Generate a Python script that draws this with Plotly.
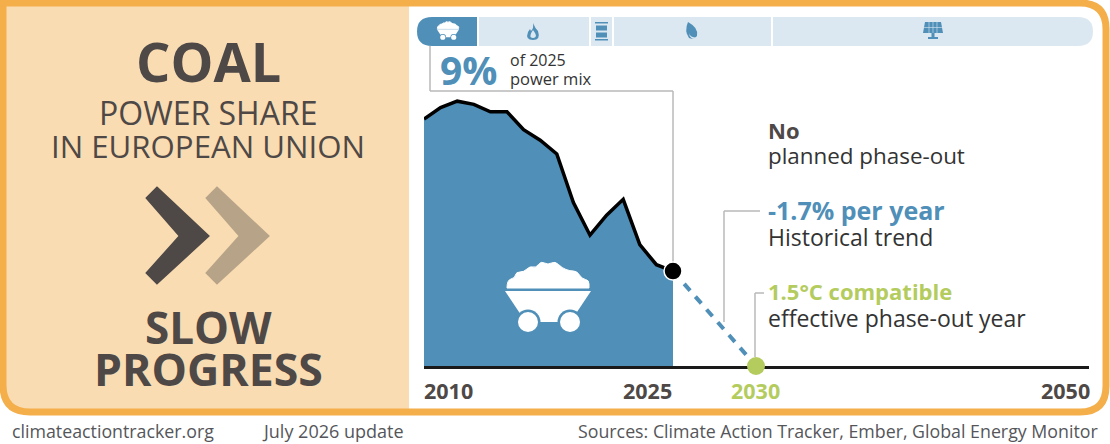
import plotly.graph_objects as go

W = 1110
H = 444

# coal share of the EU power mix (percent)
years = [2010, 2011, 2012, 2013, 2014, 2015, 2016, 2017, 2018, 2019, 2020, 2021, 2022, 2023, 2024, 2025]
coal_share = [23.4, 24.5, 25.1, 24.8, 24.1, 24.1, 22.4, 21.4, 20.1, 15.5, 12.4, 14.3, 15.8, 11.5, 9.6, 9.0]

trend_years = [2025, 2030]
trend_share = [9.0, 0.0]

tick_years = [2010, 2025, 2030, 2050]

BLUE = '#4f8fb8'
TAB = '#dce8f1'
ORANGE = '#f4ae4a'
PEACH = '#fadcb2'
DARK = '#4e4846'
TAN = '#b7a488'
GREEN = '#b4cc5e'
GREY = '#b9b9b9'
FONT = 'Open Sans'


def px(x):
    return round(x / W, 5)


def py(y):
    return round(1 - y / H, 5)


def path(cmds):
    # cmds is a list of (letter, x, y, ...) in picture pixels
    out = []
    for c in cmds:
        nums = c[1:]
        pts = [f'{px(nums[i])},{py(nums[i + 1])}' for i in range(0, len(nums), 2)]
        out.append(c[0] + ' '.join(pts))
    return ' '.join(out) + ' Z'


def poly(points):
    return path([('M', *points[0])] + [('L', *p) for p in points[1:]])


def smooth(points):
    # rounded outline through the midpoints, used for the lumpy coal pile
    cmds = [('M', *points[0])]
    for a, b in zip(points[1:-1], points[2:]):
        cmds.append(('Q', a[0], a[1], (a[0] + b[0]) / 2, (a[1] + b[1]) / 2))
    cmds.append(('L', *points[-1]))
    return path(cmds)


def shape(d, fill, line=None, width=0, layer='above'):
    return dict(type='path', xref='paper', yref='paper', path=d, fillcolor=fill, layer=layer,
                line=dict(color=line or fill, width=width))


def circle(cx, cy, r, fill):
    return dict(type='circle', xref='paper', yref='paper', x0=px(cx - r), x1=px(cx + r),
                y0=py(cy + r), y1=py(cy - r), fillcolor=fill, line=dict(width=0), layer='above')


def seg(x0, y0, x1, y1, color=GREY, width=1.5, layer='below'):
    return dict(type='line', xref='paper', yref='paper', x0=px(x0), x1=px(x1), y0=py(y0), y1=py(y1),
                line=dict(color=color, width=width), layer=layer)


def cart(cx, cy, s, ring):
    # minecart with a coal pile, drawn around (cx, cy)
    def t(x, y):
        return cx + (x - 548) * s, cy + (y - 298) * s
    pile = [(507, 288), (507, 280), (515, 278), (516, 272), (524, 272), (530, 266), (536, 268), (541, 261),
            (548, 265), (555, 261), (562, 268), (570, 271), (577, 271), (582, 279), (589, 280), (589, 288)]
    body = [(505, 291), (591, 291), (577, 312), (570, 322), (528, 322), (519, 312)]
    out = [shape(smooth([t(*p) for p in pile]), 'white', 'white', 1),
           shape(poly([t(*p) for p in body]), 'white')]
    for wx in (528, 570):
        wheel_x, wheel_y = t(wx, 322)
        out.append(circle(wheel_x, wheel_y, 12.5 * s, ring))
        out.append(circle(wheel_x, wheel_y, 10 * s, 'white'))
    return out


def chevron(dx, color):
    pts = [(157 + dx, 189), (207 + dx, 236), (157 + dx, 282), (148 + dx, 273), (181 + dx, 236), (148 + dx, 198)]
    return shape(poly(pts), color, color, 4, layer='below')


shapes = []

# left panel and outer frame
shapes.append(shape(path([('M', 3, 3), ('L', 409, 3), ('L', 409, 412), ('L', 30, 412),
                          ('Q', 3, 412, 3, 385)]), PEACH, layer='below'))
shapes.append(dict(type='path', xref='paper', yref='paper', layer='below', fillcolor='rgba(0,0,0,0)',
                   line=dict(color=ORANGE, width=7),
                   path=path([('M', 3, 3), ('L', 1080, 3), ('Q', 1106, 3, 1106, 29), ('L', 1106, 386),
                              ('Q', 1106, 412, 1080, 412), ('L', 30, 412), ('Q', 3, 412, 3, 385)])))

# fuel tabs
shapes.append(shape(path([('M', 432, 17), ('L', 477, 17), ('L', 477, 46), ('L', 432, 46),
                          ('Q', 417, 46, 417, 31.5), ('Q', 417, 17, 432, 17)]), BLUE))
shapes.append(shape(poly([(479, 17), (589, 17), (589, 46), (479, 46)]), TAB))
shapes.append(shape(poly([(591, 17), (612, 17), (612, 46), (591, 46)]), TAB))
shapes.append(shape(poly([(614, 17), (771, 17), (771, 46), (614, 46)]), TAB))
shapes.append(shape(path([('M', 773, 17), ('L', 1078, 17), ('Q', 1093, 17, 1093, 31.5),
                          ('Q', 1093, 46, 1078, 46), ('L', 773, 46)]), TAB))

# tab icons
shapes += cart(448, 31, 0.26, BLUE)
# gas flame
shapes.append(shape(path([('M', 533, 23), ('Q', 535, 28, 538, 31), ('Q', 541, 40, 533, 40), ('Q', 525, 40, 528, 32),
                          ('L', 530, 29), ('L', 531, 31), ('Q', 534, 28, 533, 23)]), BLUE))
shapes.append(shape(path([('M', 533, 30), ('Q', 537, 35, 535.5, 37), ('Q', 533, 39, 530.5, 37),
                          ('Q', 530, 34, 533, 30)]), TAB))
# oil barrel
for x0, x1, y0, y1 in [(595, 608, 22, 23.5), (596, 607, 25.5, 30.5), (596, 607, 32.5, 37.5), (595, 608, 39, 40.5)]:
    shapes.append(shape(poly([(x0, y0), (x1, y0), (x1, y1), (x0, y1)]), BLUE))
# biomass leaf
shapes.append(shape(path([('M', 688, 22), ('Q', 699, 28, 697, 36), ('Q', 694, 40, 689, 38),
                          ('Q', 684, 31, 688, 22)]), BLUE))
shapes.append(shape(path([('M', 689, 33), ('Q', 690, 37, 695, 37.5), ('L', 698, 38), ('Q', 690, 41, 689, 33)]), TAB))
# solar panel
shapes.append(shape(poly([(925, 22), (941, 22), (943, 33), (923, 33)]), BLUE))
shapes.append(shape(poly([(931.5, 33), (934.5, 33), (934.5, 37), (938, 37), (938, 39), (928, 39), (928, 37), (931.5, 37)]), BLUE))
for gx in (929, 933, 937):
    shapes.append(seg(gx, 22, gx, 33, TAB, 0.6, layer='above'))
shapes.append(seg(924, 27.5, 942, 27.5, TAB, 0.6, layer='above'))

# chevrons
shapes.append(chevron(0, DARK))
shapes.append(chevron(60, TAN))

# leader lines
shapes.append(seg(430, 46, 430, 91))
shapes.append(seg(430, 91, 673, 91))
shapes.append(seg(673, 91, 673, 265))
shapes.append(seg(760, 211, 724, 211))
shapes.append(seg(724, 211, 724, 322))
shapes.append(seg(764, 293, 755, 293))
shapes.append(seg(755, 293, 755, 357))

# big cart on the area
shapes += cart(548, 298, 1, BLUE)


def label(x, y, text, size, color=DARK, anchor='left', bold=False):
    # annotations sit about 2px inside their anchor, so push them back out
    nudge = {'left': -2, 'right': 2, 'center': 0}[anchor]
    return dict(xref='paper', yref='paper', x=px(x + nudge), y=py(y), text=f'<b>{text}</b>' if bold else text,
                showarrow=False, xanchor=anchor, yanchor='middle', align=anchor,
                font=dict(family=FONT, size=size, color=color))


annotations = [
    label(208, 61, 'COAL', 54, anchor='center', bold=True),
    label(208, 113, 'POWER SHARE', 32, anchor='center'),
    label(208, 146, 'IN EUROPEAN UNION', 31.2, anchor='center'),
    label(208, 327, 'SLOW', 44, anchor='center', bold=True),
    label(208, 368, 'PROGRESS', 44.6, anchor='center', bold=True),
    label(440, 69, '9%', 39, BLUE, bold=True),
    label(510, 60, 'of 2025', 16, '#333333'),
    label(510, 78, 'power mix', 16.5, '#333333'),
    label(768, 130, 'No', 22, bold=True),
    label(768, 156, 'planned phase-out', 22.4, '#333333'),
    label(768, 210, '-1.7% per year', 25, BLUE, bold=True),
    label(768, 237, 'Historical trend', 23, '#333333'),
    label(768, 291, '1.5°C compatible', 22, GREEN, bold=True),
    label(768, 318, 'effective phase-out year', 23, '#333333'),
    label(12, 431, 'climateactiontracker.org', 17.8, '#55565a'),
    label(262, 431, 'July 2026 update', 18, '#55565a'),
    label(1098, 431, 'Sources: Climate Action Tracker, Ember, Global Energy Monitor', 17.8, '#55565a', anchor='right'),
]

# year labels under the axis
tick_pos = {2010: (424, 'left', DARK), 2025: (672, 'right', DARK), 2030: (756, 'center', GREEN), 2050: (1090, 'right', DARK)}
for yr in tick_years:
    x, anchor, color = tick_pos[yr]
    annotations.append(label(x, 391, str(yr), 21.5, color, anchor, bold=True))

fig = go.Figure()

fig.add_trace(go.Scatter(x=years, y=coal_share, mode='lines', fill='tozeroy', fillcolor=BLUE,
                         line=dict(color='black', width=3.5), hoverinfo='x+y', showlegend=False))
fig.add_trace(go.Scatter(x=trend_years, y=trend_share, mode='lines',
                         line=dict(color=BLUE, width=4, dash='9px,8px'), showlegend=False))
fig.add_trace(go.Scatter(x=[trend_years[0]], y=[trend_share[0]], mode='markers', cliponaxis=False,
                         marker=dict(color='black', size=18, line=dict(color='white', width=1.5)), showlegend=False))
fig.add_trace(go.Scatter(x=[trend_years[1]], y=[trend_share[1]], mode='markers', cliponaxis=False,
                         marker=dict(color=GREEN, size=18), showlegend=False))

fig.update_layout(
    width=W, height=H, autosize=False,
    margin=dict(l=0, r=0, t=0, b=0),
    paper_bgcolor='white', plot_bgcolor='rgba(0,0,0,0)',
    shapes=shapes, annotations=annotations,
    xaxis=dict(domain=[px(424), px(1089)], range=[2010, 2050.06], showgrid=False, zeroline=False,
               showticklabels=False, ticks='', showline=True, linecolor='#1a1a1a', linewidth=3,
               layer='below traces'),
    yaxis=dict(domain=[py(366), py(90)], range=[0, 26.16], showgrid=False, zeroline=False,
               showticklabels=False, ticks='', showline=False),
)

# the page's default body margin would push the figure off by 8px
fig.write_html('out.html', config=dict(displayModeBar=False),
               post_script="document.body.style.margin='0';document.body.style.overflow='hidden';")
